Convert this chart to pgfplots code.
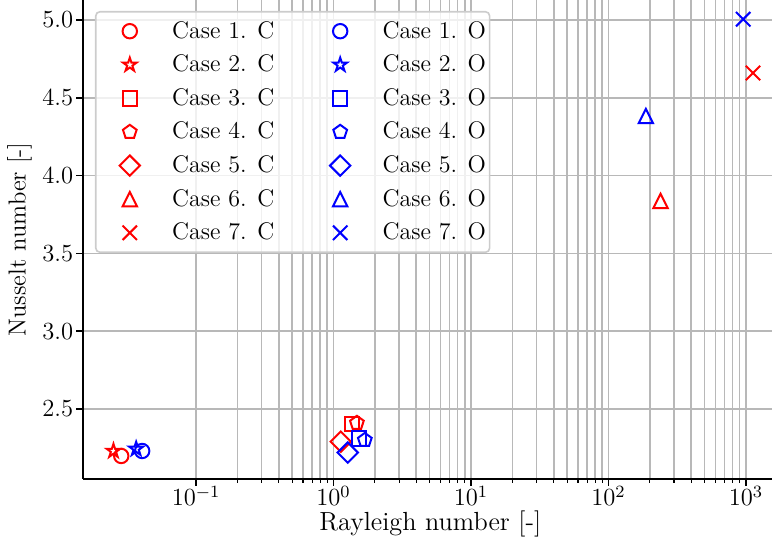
\RequirePackage{fix-cm}
\documentclass[border=0pt]{standalone}
\usepackage{pgfplots}
\pgfplotsset{compat=1.18}

\definecolor{gridgray}{RGB}{184,184,184}
\definecolor{framegray}{RGB}{204,204,204}
\definecolor{cred}{RGB}{255,0,0}
\definecolor{cblue}{RGB}{0,0,255}

% open five-pointed star
\pgfdeclareplotmark{ostar}{%
  \pgfpathmoveto{\pgfpointpolar{90}{\pgfplotmarksize}}%
  \pgfpathlineto{\pgfpointpolar{126}{0.381966\pgfplotmarksize}}%
  \pgfpathlineto{\pgfpointpolar{162}{\pgfplotmarksize}}%
  \pgfpathlineto{\pgfpointpolar{198}{0.381966\pgfplotmarksize}}%
  \pgfpathlineto{\pgfpointpolar{234}{\pgfplotmarksize}}%
  \pgfpathlineto{\pgfpointpolar{270}{0.381966\pgfplotmarksize}}%
  \pgfpathlineto{\pgfpointpolar{306}{\pgfplotmarksize}}%
  \pgfpathlineto{\pgfpointpolar{342}{0.381966\pgfplotmarksize}}%
  \pgfpathlineto{\pgfpointpolar{18}{\pgfplotmarksize}}%
  \pgfpathlineto{\pgfpointpolar{54}{0.381966\pgfplotmarksize}}%
  \pgfpathclose\pgfusepathqstroke}
% isosceles triangle, as wide as it is tall
\pgfdeclareplotmark{otri}{%
  \pgfpathmoveto{\pgfqpoint{0pt}{\pgfplotmarksize}}%
  \pgfpathlineto{\pgfqpoint{-\pgfplotmarksize}{-\pgfplotmarksize}}%
  \pgfpathlineto{\pgfqpoint{\pgfplotmarksize}{-\pgfplotmarksize}}%
  \pgfpathclose\pgfusepathqstroke}
% square turned by 45 degrees
\pgfdeclareplotmark{odiamond}{%
  \pgfpathmoveto{\pgfqpoint{0pt}{1.41421\pgfplotmarksize}}%
  \pgfpathlineto{\pgfqpoint{1.41421\pgfplotmarksize}{0pt}}%
  \pgfpathlineto{\pgfqpoint{0pt}{-1.41421\pgfplotmarksize}}%
  \pgfpathlineto{\pgfqpoint{-1.41421\pgfplotmarksize}{0pt}}%
  \pgfpathclose\pgfusepathqstroke}
% thin cross
\pgfdeclareplotmark{ox}{%
  \pgfpathmoveto{\pgfqpoint{-\pgfplotmarksize}{-\pgfplotmarksize}}%
  \pgfpathlineto{\pgfqpoint{\pgfplotmarksize}{\pgfplotmarksize}}%
  \pgfpathmoveto{\pgfqpoint{-\pgfplotmarksize}{\pgfplotmarksize}}%
  \pgfpathlineto{\pgfqpoint{\pgfplotmarksize}{-\pgfplotmarksize}}%
  \pgfusepathqstroke}

\pgfplotsset{
  caseC/.style={only marks, draw=cred, mark options={draw=cred, fill=none, line width=1pt, sharp corners}},
  caseO/.style={only marks, draw=cblue, mark options={draw=cblue, fill=none, line width=1pt, sharp corners}},
}
% fixed-width legend texts keep the two legend columns apart
\newcommand{\legC}[1]{\makebox[65pt][l]{Case #1.\hspace{0.44em}C}}
\newcommand{\legO}[1]{\makebox[51.5pt][l]{Case #1.\hspace{0.44em}O}}

\begin{document}
\begin{tikzpicture}
\begin{axis}[
  name=ax,
  scale only axis, width=344.5pt, height=239.5pt,
  xmode=log, xmin=0.01507, xmax=1546,
  ymin=2.05, ymax=5.1285,
  xtick={0.1,1,10,100,1000},
  ytick={2.5,3.0,3.5,4.0,4.5,5.0},
  minor y tick num=0,
  axis lines*=left,
  axis line style={black, line width=0.8pt},
  tick align=outside,
  major tick length=3.5pt, minor tick length=2pt,
  every tick/.style={black, line width=0.8pt},
  every minor tick/.append style={line width=0.6pt},
  grid=both,
  major grid style={draw=gridgray, line width=0.8pt},
  minor grid style={draw=gridgray, line width=0.8pt},
  tick label style={font=\fontsize{12.3}{15}\selectfont},
  xticklabel style={anchor=base, inner sep=0pt, yshift=-10pt},
  yticklabel style={anchor=east, inner sep=0pt, xshift=-1.2pt,
    /pgf/number format/.cd, fixed, fixed zerofill, precision=1},
  xlabel={Rayleigh number [-]},
  ylabel={Nusselt number [-]},
  xlabel style={at={(axis description cs:0.504,0)}, anchor=base, yshift=-26pt,
    font=\fontsize{13.1}{16}\selectfont},
  ylabel style={at={(axis description cs:-0.0922,0.5)}, anchor=center,
    font=\fontsize{12.3}{15}\selectfont},
  mark size=3.6pt,
  legend columns=7, transpose legend,
  legend image code/.code={%
    \path[draw=none, fill=none] (-17pt,-8.4pt) rectangle (19.2pt,8.4pt);
    \draw[sharp corners] plot coordinates {(0pt,0pt)};
  },
  legend style={
    at={(0,1)}, anchor=north west, xshift=6pt, yshift=-5.5pt,
    draw=framegray, line width=0.8pt, rounded corners=2pt,
    fill=white, fill opacity=0.8, text opacity=1,
    inner xsep=0pt, inner ysep=1.3pt,
    row sep=0pt, column sep=0pt,
    font=\fontsize{12}{14}\selectfont,
  },
]
% closed configurations
\addplot[caseC, mark=o] coordinates {(0.0286,2.198)};
\addlegendentry{\legC{1}}
\addplot[caseC, mark=ostar] coordinates {(0.0251,2.230)};
\addlegendentry{\legC{2}}
\addplot[caseC, mark=square] coordinates {(1.36,2.404)};
\addlegendentry{\legC{3}}
\addplot[caseC, mark=pentagon] coordinates {(1.48,2.410)};
\addlegendentry{\legC{4}}
\addplot[caseC, mark=odiamond] coordinates {(1.13,2.290)};
\addlegendentry{\legC{5}}
\addplot[caseC, mark=otri] coordinates {(239,3.837)};
\addlegendentry{\legC{6}}
\addplot[caseC, mark=ox] coordinates {(1125,4.659)};
\addlegendentry{\legC{7}}
% open configurations
\addplot[caseO, mark=o] coordinates {(0.0406,2.230)};
\addlegendentry{\legO{1}}
\addplot[caseO, mark=ostar] coordinates {(0.0367,2.243)};
\addlegendentry{\legO{2}}
\addplot[caseO, mark=square] coordinates {(1.53,2.310)};
\addlegendentry{\legO{3}}
\addplot[caseO, mark=pentagon] coordinates {(1.69,2.300)};
\addlegendentry{\legO{4}}
\addplot[caseO, mark=odiamond] coordinates {(1.27,2.220)};
\addlegendentry{\legO{5}}
\addplot[caseO, mark=otri] coordinates {(187,4.383)};
\addlegendentry{\legO{6}}
\addplot[caseO, mark=ox] coordinates {(954,5.005)};
\addlegendentry{\legO{7}}
\end{axis}
\pgfresetboundingbox
\path[use as bounding box] ([xshift=-41.5pt,yshift=-36pt]ax.south west) rectangle (ax.north east);
\end{tikzpicture}
\end{document}
